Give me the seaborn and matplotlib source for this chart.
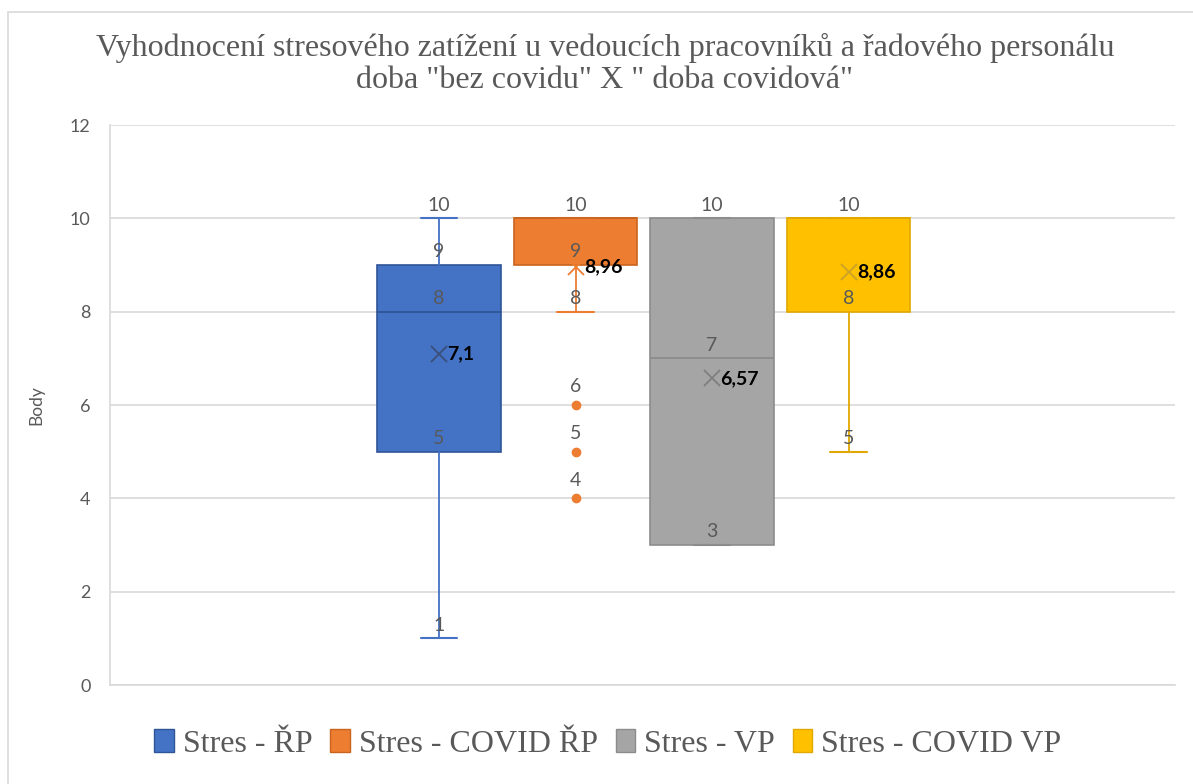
import matplotlib
matplotlib.use("Agg")
import matplotlib.pyplot as plt
import seaborn as sns
from matplotlib.patches import Rectangle, Patch

# ---- data ----
series = ["Stres - ŘP", "Stres - COVID ŘP", "Stres - VP", "Stres - COVID VP"]
mins = [1, 8, 3, 5]
q1s = [5, 9, 3, 8]
medians = [8, 10, 7, 10]
q3s = [9, 10, 10, 10]
maxs = [10, 10, 10, 10]
means = [7.1, 8.96, 6.57, 8.86]
mean_labels = ["7,1", "8,96", "6,57", "8,86"]
outliers = [[], [6, 5, 4], [], []]
yticks = [0, 2, 4, 6, 8, 10, 12]

fills = ["#4472C4", "#ED7D31", "#A5A5A5", "#FFC000"]
edges = ["#2F5597", "#C9641F", "#8C8C8C", "#E0A800"]
whisk = ["#4472C4", "#ED7D31", "#8C8C8C", "#E0A800"]
meanc = ["#3A4F7A", "#ED7D31", "#7F7F7F", "#C9A227"]

sns.set_theme(style="white")
plt.rcParams["font.family"] = ["Lato", "DejaVu Sans"]

fig = plt.figure(figsize=(11.93, 7.84), dpi=100)
ax = fig.add_axes([110/1193, 1-685/784, (1175-110)/1193, (685-125)/784])

# chart border
fig.patches.append(Rectangle((8/1193, -0.02), 1.05, 1-12/784+0.02, transform=fig.transFigure,
                             fill=False, edgecolor="#d9d9d9", linewidth=1.2))

stats = []
for i in range(len(series)):
    stats.append(dict(med=medians[i], q1=q1s[i], q3=q3s[i], whislo=mins[i], whishi=maxs[i],
                      mean=means[i], fliers=outliers[i], label=series[i]))

positions = list(range(len(series)))
for i, st in enumerate(stats):
    ax.bxp([st], positions=[positions[i]], widths=0.905, patch_artist=True, showmeans=True,
           showfliers=True,
           boxprops=dict(facecolor=fills[i], edgecolor=edges[i], linewidth=1.2),
           medianprops=dict(color=edges[i], linewidth=1.3),
           whiskerprops=dict(color=whisk[i], linewidth=1.3),
           capprops=dict(color=whisk[i], linewidth=1.5),
           capwidths=0.27,
           meanprops=dict(marker="x", markeredgecolor=meanc[i], markersize=11, markeredgewidth=1.3),
           flierprops=dict(marker="o", markerfacecolor=fills[i], markeredgecolor=fills[i], markersize=6))
    vals = sorted(set([mins[i], q1s[i], medians[i], q3s[i], maxs[i]]))
    for v in vals:
        ax.annotate(str(v), (positions[i], v), xytext=(0, 9.5), textcoords="offset points",
                    ha="center", va="center", fontsize=14, color="#595959")
    for v in outliers[i]:
        ax.annotate(str(v), (positions[i], v), xytext=(0, 13), textcoords="offset points",
                    ha="center", va="center", fontsize=14, color="#595959")
    ax.annotate(mean_labels[i], (positions[i], means[i]), xytext=(6, 0), textcoords="offset points",
                ha="left", va="center", fontsize=14, color="black", fontweight="bold")

ax.set_xlim((110-439)/136.5, (1175-439)/136.5)
ax.set_ylim(0, 12)
ax.set_yticks(yticks)
ax.set_yticklabels([str(t) for t in yticks], fontsize=13, color="#595959")
ax.set_xticks([])
ax.tick_params(axis="y", length=0, pad=14)
ax.grid(axis="y", color="#d9d9d9", linewidth=1.2)
ax.set_axisbelow(True)
for s in ["top", "right"]:
    ax.spines[s].set_visible(False)
ax.spines["left"].set_color("#d9d9d9")
ax.spines["bottom"].set_color("#d9d9d9")
ax.spines["left"].set_linewidth(1.2)
ax.spines["bottom"].set_linewidth(1.2)
ax.set_ylabel("Body", fontsize=12.5, color="#595959", labelpad=18)

fig.text(605/1193, 1-64/784, "Vyhodnocení stresového zatížení u vedoucích pracovníků a řadového personálu\n"
         "doba \"bez covidu\" X \" doba covidová\"", ha="center", va="center",
         fontsize=23, color="#595959", family=["Liberation Serif", "DejaVu Serif"], linespacing=1.12)

handles = [Patch(facecolor=fills[i], edgecolor=edges[i], label=series[i]) for i in range(len(series))]
fig.legend(handles=handles, loc="center", bbox_to_anchor=(608/1193, 1-744/784), ncol=4, frameon=False,
           prop=dict(family=["Liberation Serif", "DejaVu Serif"], size=23),
           handlelength=0.6, handleheight=0.75, handletextpad=0.3, columnspacing=0.55,
           labelcolor="#595959")

fig.savefig("out.png", dpi=100)
